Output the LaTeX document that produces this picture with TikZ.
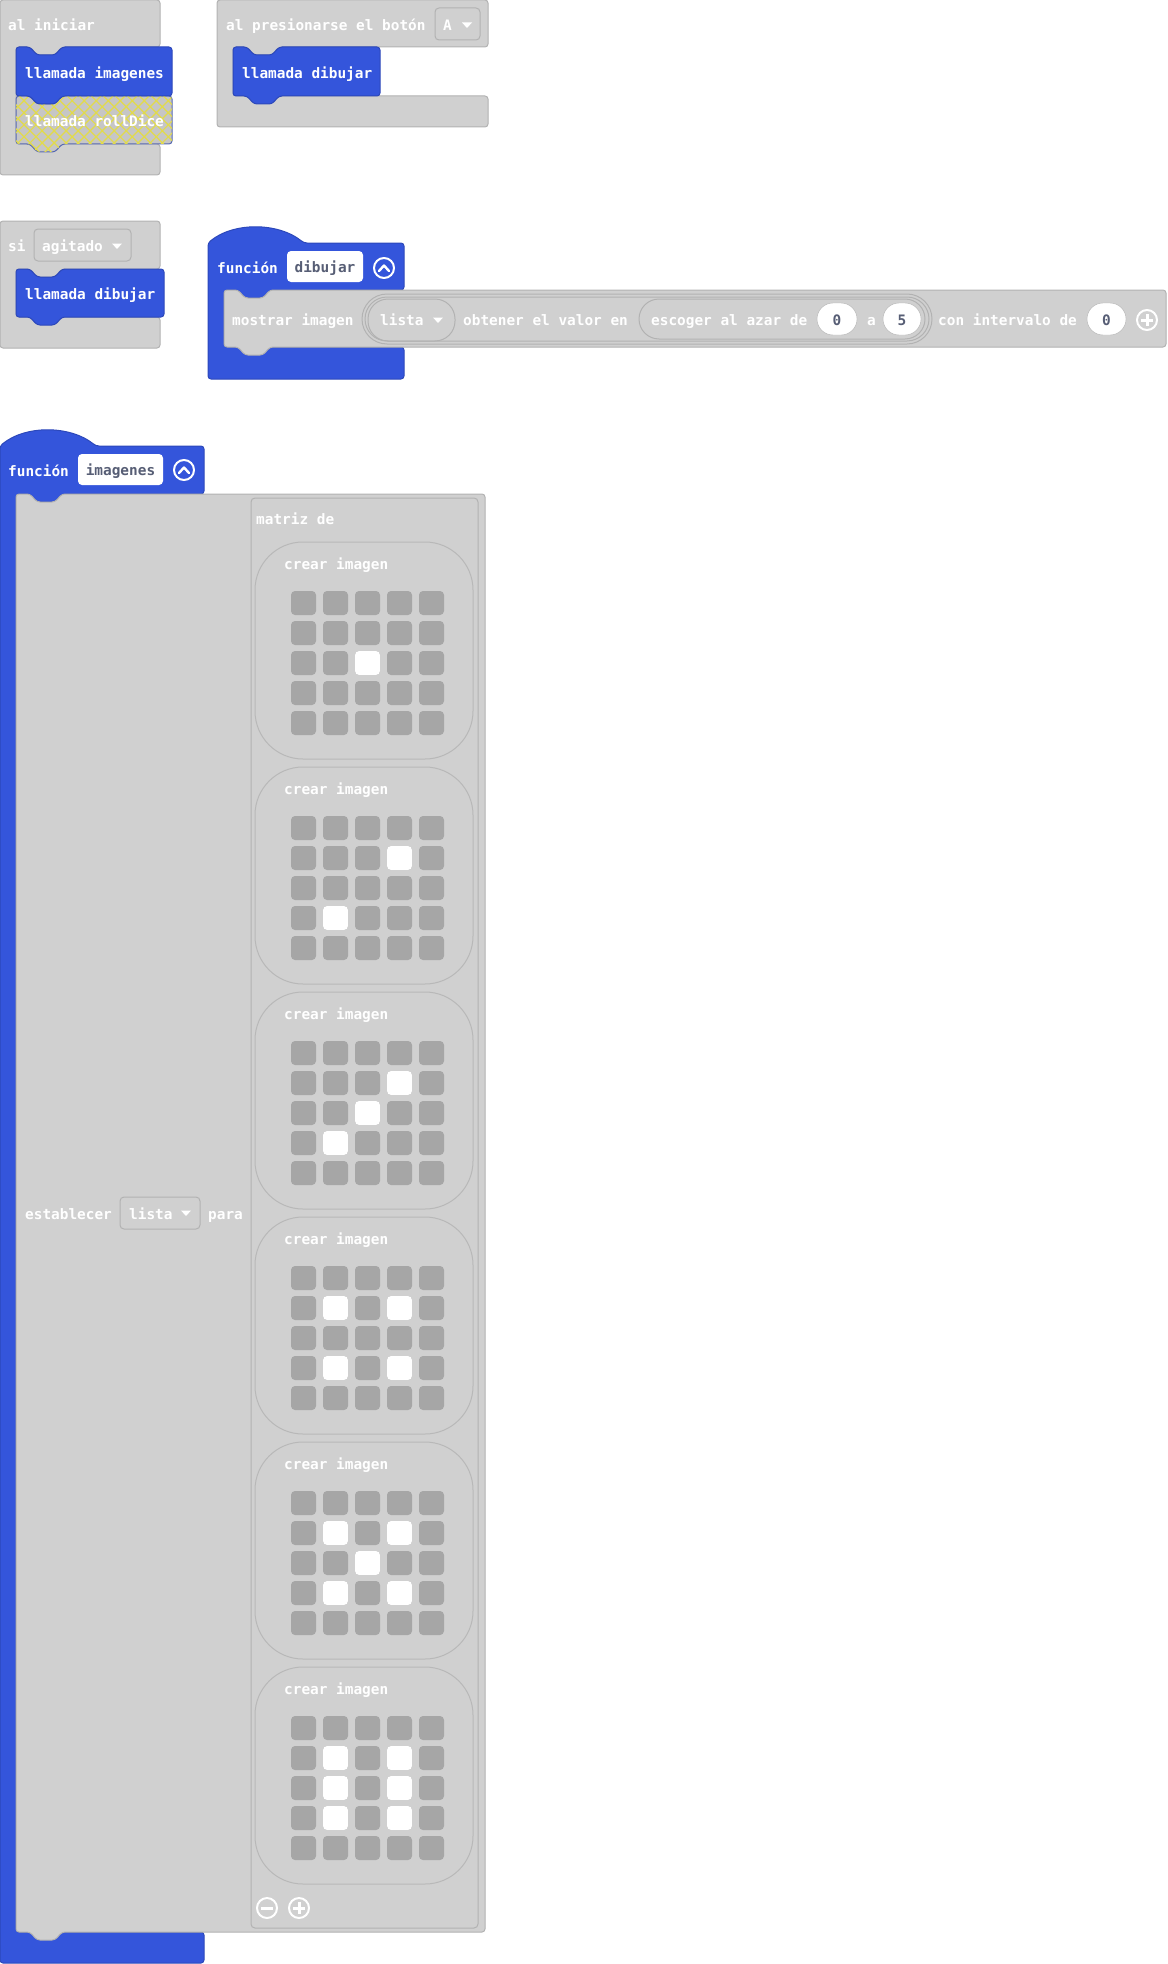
\documentclass[tikz,border=0pt]{standalone}
\usepackage{fontspec}
\newfontfamily\codefont{DejaVu Sans Mono}
\usetikzlibrary{patterns.meta}
\definecolor{blkblue}{HTML}{3455DB}
\definecolor{blkgray}{HTML}{D0D0D0}
\definecolor{blkline}{HTML}{B2B2B2}
\definecolor{ledgray}{HTML}{A6A6A6}
\definecolor{fldtext}{HTML}{575E75}
\definecolor{hatchyel}{HTML}{E2DB4A}
\definecolor{hatchbase}{HTML}{C6C6C6}
\newcommand{\blkfont}{\codefont\bfseries\fontsize{14.4}{16}\selectfont}
% statement block: x1,y1,x2,y2
\newcommand{\blk}[5][]{\draw[#1] (#2,#3) -- ++(14,0) -- ++(7,8) -- ++(18,0) -- ++(7,-8) -- (#4,#3) -- (#4,#5) -- (#2+46,#5) -- ++(-7,8) -- ++(-18,0) -- ++(-7,-8) -- (#2,#5) -- cycle;}
% C-shaped block: x0,y0,x1,header bottom,inner bottom,y1
\newcommand{\cblk}[7][]{\draw[#1] (#2,#3) -- (#4,#3) -- (#4,#5) -- (#2+62,#5) -- ++(-7,8) -- ++(-18,0) -- ++(-7,-8) -- (#2+16,#5) -- (#2+16,#6) -- (#4,#6) -- (#4,#7) -- (#2,#7) -- cycle;}
\newcommand{\tri}[2]{\fill[white] (#1-5,#2-2.5) -- (#1+5,#2-2.5) -- (#1,#2+3) -- cycle;}
\tikzset{
  lbl/.style={anchor=west, inner sep=0, text=white, font=\blkfont, text height=11pt, text depth=0pt},
  fld/.style={fill=white, rounded corners=4, inner sep=0, text=fldtext, font=\blkfont, minimum height=31, text height=12.5pt, text depth=0pt},
  pill/.style={fill=white, draw=blkline, rounded corners=16, inner sep=0, text=fldtext, font=\blkfont, minimum height=32, text height=12pt, text depth=0pt},
  grayblk/.style={fill=blkgray, draw=blkline, line width=1, rounded corners=3},
  blueblk/.style={fill=blkblue, draw=blkblue!85!black, line width=1, rounded corners=3},
  hatchblk/.style={fill=hatchbase, draw=blkblue!55!gray, line width=1, rounded corners=3,
    postaction={pattern={Lines[angle=45,distance=8.5pt,line width=1.2pt]}, pattern color=hatchyel},
    postaction={pattern={Lines[angle=-45,distance=8.5pt,line width=1.2pt]}, pattern color=hatchyel}},
  ddbox/.style={draw=blkline, line width=1, rounded corners=4},
  outl/.style={draw=black!30, line width=1},
  led/.style={fill=ledgray, rounded corners=4},
  ledon/.style={fill=white, rounded corners=4},
  icon/.style={draw=white, line width=2, line cap=round, line join=round}
}
\begin{document}
\begin{tikzpicture}[x=1pt,y=-1pt]
  \useasboundingbox (0,0) rectangle (1167,1964);
  % al iniciar
  \cblk[grayblk]{0}{0}{160}{47}{144}{175}
  \blk[hatchblk]{16}{96}{172}{144}
  \blk[blueblk]{16}{47}{172}{96}
  \node[lbl] (ini) at (8,25) {al iniciar};
  \node[lbl] (callimg) at (25,73) {llamada imagenes};
  \node[lbl] (calldice) at (25,121) {llamada rollDice};
  % al presionarse el boton
  \cblk[grayblk]{217}{0}{488}{47}{96}{127}
  \blk[blueblk]{233}{47}{380}{96}
  \node[lbl] (btn) at (226,25) {al presionarse el botón};
  \draw[ddbox] (435,8) rectangle (480,40);
  \node[lbl] (btnA) at (443,25) {A};
  \tri{467}{25}
  \node[lbl] (calldib) at (242,73) {llamada dibujar};
  % si agitado
  \cblk[grayblk]{0}{221}{160}{269}{317}{348}
  \blk[blueblk]{16}{269}{164}{317}
  \node[lbl] (si) at (8,246) {si};
  \draw[ddbox] (34,229) rectangle (131,261);
  \node[lbl] (agit) at (42,246) {agitado};
  \tri{117}{246}
  \node[lbl] (calldib2) at (25,294) {llamada dibujar};
  % funcion dibujar
  \draw[blueblk] (208,243) .. controls (233,222) and (278,222) .. (304,243) -- (404,243) -- (404,290) -- (270,290) -- ++(-7,8) -- ++(-18,0) -- ++(-7,-8) -- (224,290) -- (224,347) -- (404,347) -- (404,379) -- (208,379) -- cycle;
  \node[lbl] (fdib) at (217,268) {función};
  \node[fld, minimum width=76] (fdibname) at (325,266.5) {dibujar};
  \draw[icon] (384,268) circle (10);
  \draw[icon, line width=2.4] (379,271) -- (384,265.5) -- (389,271);
  \blk[grayblk]{224}{290}{1166}{347}
  \node[lbl] (mostrar) at (232,320) {mostrar imagen};
  \draw[outl, rounded corners=25] (362,294) rectangle (932,344);
  \draw[outl, rounded corners=22] (365,297) rectangle (929,341);
  \draw[outl, rounded corners=20] (368,299) rectangle (455,341);
  \node[lbl] (lista) at (380,320) {lista};
  \tri{438}{320}
  \node[lbl] (obtener) at (463,320) {obtener el valor en};
  \draw[outl, rounded corners=20] (639,299) rectangle (925,339);
  \node[lbl] (escoger) at (651,320) {escoger al azar de};
  \node[pill, minimum width=40] (desde) at (837,319) {0};
  \node[lbl] (a) at (867,320) {a};
  \node[pill, minimum width=38] (hasta) at (902,319) {5};
  \node[lbl] (interv) at (938,320) {con intervalo de};
  \node[pill, minimum width=39] (intval) at (1106.5,319) {0};
  \draw[icon] (1147,320) circle (10);
  \draw[icon, line width=3, line cap=butt] (1141,320) -- (1153,320) (1147,314) -- (1147,326);
  % funcion imagenes
  \draw[blueblk] (0,446) .. controls (25,425) and (70,425) .. (96,446) -- (204,446) -- (204,494) -- (62,494) -- ++(-7,8) -- ++(-18,0) -- ++(-7,-8) -- (16,494) -- (16,1932) -- (204,1932) -- (204,1963) -- (0,1963) -- cycle;
  \node[lbl] (fimg) at (8,471) {función};
  \node[fld, minimum width=85] (fimgname) at (120.5,469.5) {imagenes};
  \draw[icon] (184,470) circle (10);
  \draw[icon, line width=2.4] (179,473) -- (184,467.5) -- (189,473);
  \blk[grayblk]{16}{494}{485}{1932}
  \node[lbl] (estab) at (25,1214) {establecer};
  \draw[ddbox] (120,1197) rectangle (200,1229);
  \node[lbl] (lista2) at (129,1214) {lista};
  \tri{186}{1213}
  \node[lbl] (para) at (208,1214) {para};
  \draw[outl, fill=blkgray, rounded corners=4] (251,498) rectangle (478,1928);
  \node[lbl] (matriz) at (256,519) {matriz de};
  \foreach \k/\lit in {0/{2/2}, 1/{1/3,3/1}, 2/{1/3,2/2,3/1}, 3/{1/1,1/3,3/1,3/3}, 4/{1/1,1/3,2/2,3/1,3/3}, 5/{1/1,1/3,2/1,2/3,3/1,3/3}}{
    \pgfmathsetmacro\t{542+225*\k}
    \draw[outl, draw=black!28, rounded corners=48] (255,\t) rectangle (473,\t+217);
    \node[lbl] (crear\k) at (284,\t+22) {crear imagen};
    \foreach \r in {0,...,4}
      \foreach \c in {0,...,4}
        \fill[led] (291+32*\c,\t+49+30*\r) rectangle ++(25,24);
    \foreach \r/\c in \lit
      \fill[ledon] (291+32*\c,\t+49+30*\r) rectangle ++(25,24);
  }
  \draw[icon] (267,1908) circle (10);
  \draw[icon, line width=3, line cap=butt] (261,1908) -- (273,1908);
  \draw[icon] (299,1908) circle (10);
  \draw[icon, line width=3, line cap=butt] (293,1908) -- (305,1908) (299,1902) -- (299,1914);
\end{tikzpicture}
\end{document}
